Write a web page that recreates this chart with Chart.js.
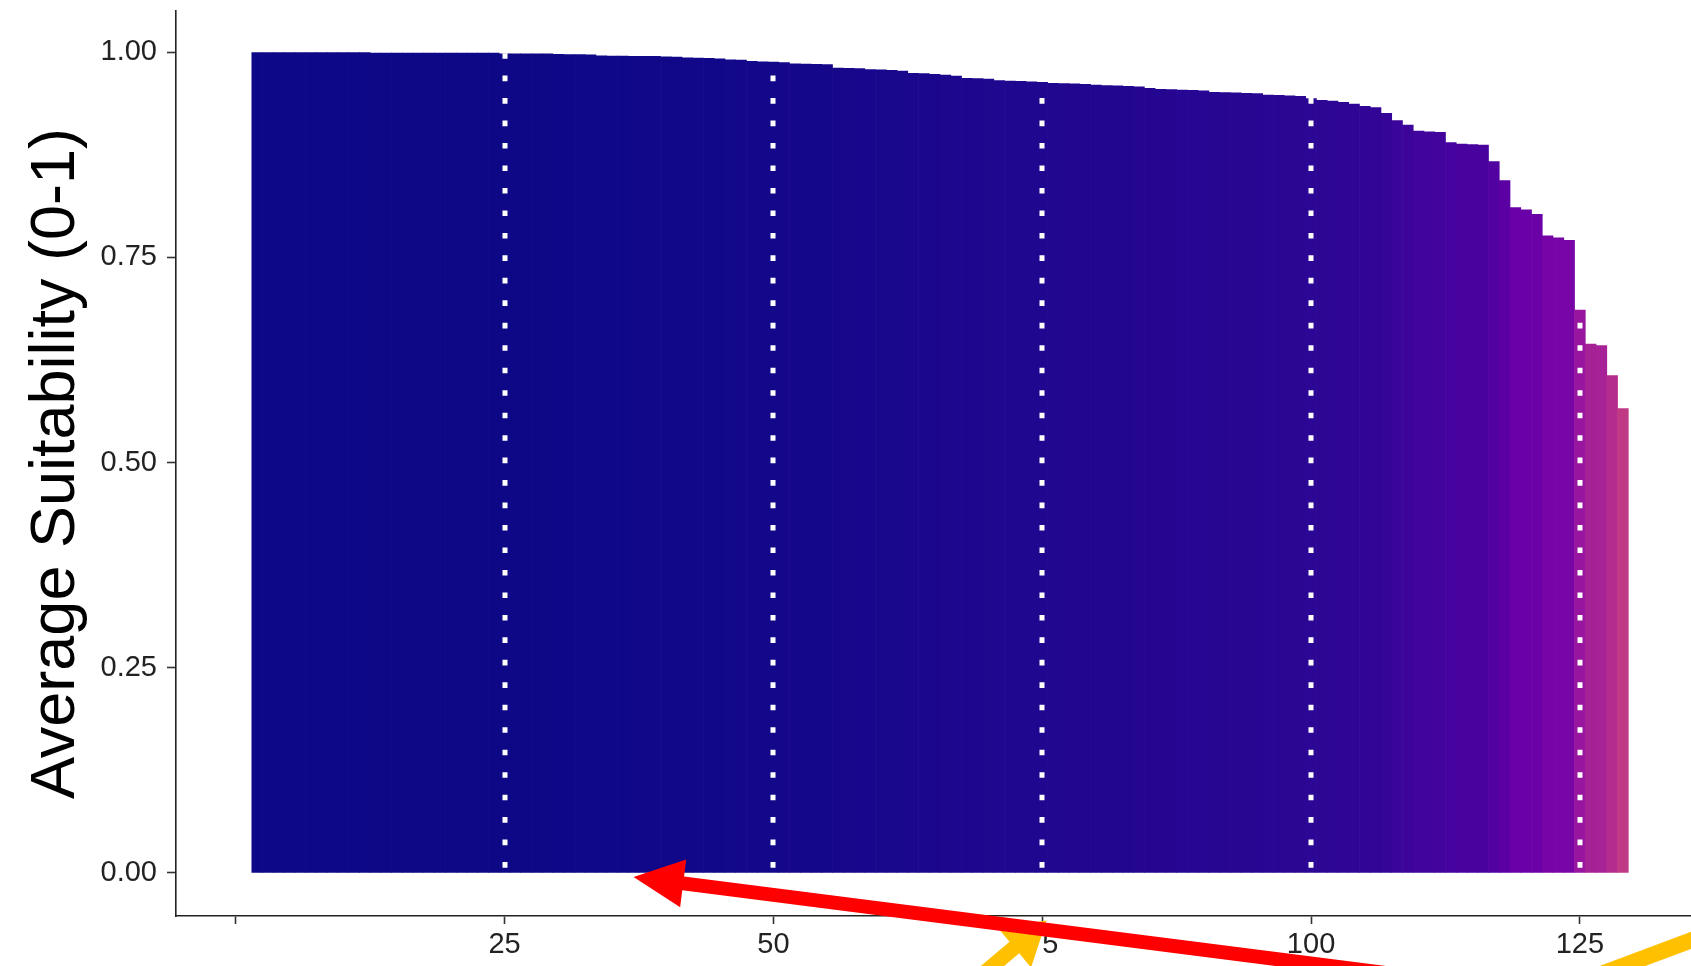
<!DOCTYPE html>
<html>
<head>
<meta charset="utf-8">
<script src="https://cdn.jsdelivr.net/npm/chart.js@4.4.0/dist/chart.umd.min.js"></script>
<style>
html,body{margin:0;padding:0;background:#ffffff;overflow:hidden}
canvas{display:block}
</style>
</head>
<body>
<canvas id="c" width="1691" height="966"></canvas>
<script>
// ---------- DATA ----------
const ranks = [
  2,3,4,5,6,7,8,9,10,11,12,13,14,15,16,17,18,19,20,21,22,23,24,25,26,27,28,29,
  30,31,32,33,34,35,36,37,38,39,40,41,42,43,44,45,46,47,48,49,50,51,52,53,54,55,
  56,57,58,59,60,61,62,63,64,65,66,67,68,69,70,71,72,73,74,75,76,77,78,79,80,81,
  82,83,84,85,86,87,88,89,90,91,92,93,94,95,96,97,98,99,100,101,102,103,104,105,
  106,107,108,109,110,111,112,113,114,115,116,117,118,119,120,121,122,123,124,125,
  126,127,128,129
];
const suitability = [
  0.9995,0.9995,0.9995,0.9995,0.9995,0.9995,0.9995,0.9995,0.9995,0.9995,0.9995,
  0.999,0.999,0.999,0.999,0.999,0.999,0.999,0.999,0.999,0.999,0.999,0.999,
  0.998,0.998,0.998,0.998,0.998,
  0.9975,0.9973,0.9972,0.997,
  0.9957,0.9955,0.9954,0.9952,0.9951,0.995,
  0.9946,0.9943,
  0.9932,0.9928,0.9925,0.992,
  0.9907,0.9905,
  0.989,0.9885,0.988,0.9876,
  0.986,0.9856,0.9852,0.985,
  0.9806,0.9804,0.9802,
  0.979,0.9785,0.978,0.977,
  0.9745,0.974,0.9732,
  0.9722,
  0.971,
  0.9683,0.968,0.9675,
  0.9655,0.965,0.9645,0.964,0.9635,
  0.9622,0.962,0.9615,0.961,
  0.960,0.9595,0.959,0.9585,0.958,
  0.956,
  0.955,0.9545,0.954,0.9535,0.953,
  0.9512,0.951,0.9507,
  0.950,0.9497,
  0.948,0.9475,0.947,0.9462,
  0.9435,0.9415,0.9406,0.939,0.937,0.934,0.9325,0.9256,0.9167,0.9114,
  0.904,0.903,0.9025,0.8899,0.888,0.8875,0.887,0.8667,0.8436,0.8107,
  0.808,0.8026,0.7765,0.774,0.771,0.686,0.6446,0.6425,0.606,0.566
];
const xTickValues = [0, 25, 50, 75, 100, 125];
const xTickLabels = ['', '25', '50', '75', '100', '125'];
const yTickValues = [0, 0.25, 0.5, 0.75, 1];
const yTickLabels = ['0.00', '0.25', '0.50', '0.75', '1.00'];
const cutRanks = [25, 50, 75, 100, 125];
const yTitle = 'Average Suitability (0-1)';

// annotation arrows (overlay), in data units: [tailX, tailY, tipX, tipY]
const redArrow = [115.7, -0.1365, 37.0, -0.005];
const yellowArrow1 = [65.5, -0.167, 75.4, -0.058];
const yellowShaft2 = [123.1, -0.142, 138.0, -0.069];

// ---------- STYLE ----------
const plasmaStops = ['#0d0887','#41049d','#6a00a8','#8f0da4','#b12a90','#cc4778','#e16462','#f2844b','#fca636','#fcce25','#f0f921'];
function hexToRgb(h){return [parseInt(h.slice(1,3),16),parseInt(h.slice(3,5),16),parseInt(h.slice(5,7),16)];}
function plasma(t){
  t = Math.max(0, Math.min(1, t));
  const p = t * (plasmaStops.length - 1);
  const i = Math.min(Math.floor(p), plasmaStops.length - 2);
  const f = p - i;
  const a = hexToRgb(plasmaStops[i]), b = hexToRgb(plasmaStops[i+1]);
  const c = a.map((v,k)=>Math.round(v + (b[k]-v)*f));
  return 'rgb(' + c.join(',') + ')';
}
const barColors = suitability.map(v => plasma((1 - v) * 1.04));

const FONT = "'Liberation Sans', Arial, Helvetica, sans-serif";

const cutLinePlugin = {
  id: 'cutLines',
  afterDatasetsDraw(chart) {
    const {ctx, chartArea} = chart;
    const xs = chart.scales.x;
    ctx.save();
    ctx.beginPath();
    ctx.rect(chartArea.left, chartArea.top, chartArea.right - chartArea.left, chartArea.bottom - chartArea.top);
    ctx.clip();
    ctx.strokeStyle = '#ffffff';
    ctx.lineWidth = 5;
    ctx.lineCap = 'butt';
    ctx.setLineDash([5.6, 16.87]);
    cutRanks.forEach(v => {
      const x = Math.round(xs.getPixelForValue(v));
      ctx.beginPath();
      ctx.moveTo(x, chartArea.top - 2.8);
      ctx.lineTo(x, chartArea.bottom);
      ctx.stroke();
    });
    ctx.restore();
  }
};

function drawArrow(ctx, x0, y0, x1, y1, width, headLen, headHalf, color) {
  const dx = x1 - x0, dy = y1 - y0;
  const L = Math.hypot(dx, dy);
  const ux = dx / L, uy = dy / L;
  const nx = -uy, ny = ux;
  const bx = x1 - ux * headLen, by = y1 - uy * headLen;
  ctx.fillStyle = color;
  ctx.beginPath();
  ctx.moveTo(x0 + nx * width/2, y0 + ny * width/2);
  ctx.lineTo(bx + nx * width/2, by + ny * width/2);
  ctx.lineTo(bx + nx * headHalf, by + ny * headHalf);
  ctx.lineTo(x1, y1);
  ctx.lineTo(bx - nx * headHalf, by - ny * headHalf);
  ctx.lineTo(bx - nx * width/2, by - ny * width/2);
  ctx.lineTo(x0 - nx * width/2, y0 - ny * width/2);
  ctx.closePath();
  ctx.fill();
}

const arrowPlugin = {
  id: 'arrows',
  afterDraw(chart) {
    const {ctx} = chart;
    const xs = chart.scales.x, ys = chart.scales.y;
    const P = (a) => [xs.getPixelForValue(a[0]), ys.getPixelForValue(a[1]), xs.getPixelForValue(a[2]), ys.getPixelForValue(a[3])];
    ctx.save();
    const y1 = P(yellowArrow1);
    drawArrow(ctx, y1[0], y1[1], y1[2], y1[3], 15, 42, 26, '#ffc000');
    const y2 = P(yellowShaft2);
    ctx.strokeStyle = '#ffc000';
    ctx.lineWidth = 16;
    ctx.beginPath(); ctx.moveTo(y2[0], y2[1]); ctx.lineTo(y2[2], y2[3]); ctx.stroke();
    const r = P(redArrow);
    drawArrow(ctx, r[0], r[1], r[2], r[3], 14, 50, 24, '#ff0000');
    ctx.restore();
  }
};

new Chart(document.getElementById('c'), {
  type: 'bar',
  data: {
    datasets: [{
      data: ranks.map((r, i) => ({x: r, y: suitability[i]})),
      backgroundColor: barColors,
      borderWidth: 0,
      barPercentage: 1,
      categoryPercentage: 1
    }]
  },
  options: {
    responsive: false,
    animation: false,
    devicePixelRatio: 1,
    layout: {padding: {top: 11, right: 0, bottom: 0, left: 0}},
    plugins: {legend: {display: false}, tooltip: {enabled: false}},
    scales: {
      x: {
        type: 'linear',
        offset: false,
        min: -5.55,
        max: 135.33,
        afterBuildTicks: (s) => { s.ticks = xTickValues.map(v => ({value: v})); },
        afterFit: (s) => { s.height = 50; s.paddingLeft = 0; s.paddingRight = 0; },
        ticks: {
          callback: (v, i) => xTickLabels[i],
          font: {family: FONT, size: 29},
          color: '#222222',
          padding: 4,
          maxRotation: 0,
          autoSkip: false
        },
        grid: {offset: false, drawOnChartArea: false, drawTicks: true, tickLength: 8, color: '#333333', tickWidth: 1.6},
        border: {display: true, color: '#222222', width: 1.6}
      },
      y: {
        type: 'linear',
        min: -0.0524,
        max: 1.0503,
        afterBuildTicks: (s) => { s.ticks = yTickValues.map(v => ({value: v})); },
        afterFit: (s) => { s.width = 176; s.paddingTop = 0; s.paddingBottom = 0; },
        ticks: {
          callback: (v, i) => yTickLabels[i],
          font: {family: FONT, size: 29},
          color: '#222222',
          padding: 10,
          autoSkip: false
        },
        grid: {drawOnChartArea: false, drawTicks: true, tickLength: 9, color: '#333333', tickWidth: 1.6},
        border: {display: true, color: '#222222', width: 1.6},
        title: {
          display: true,
          text: yTitle,
          font: {family: FONT, size: 63},
          color: '#000000',
          padding: {top: 19, bottom: 0}
        }
      }
    }
  },
  plugins: [cutLinePlugin, arrowPlugin]
});
</script>
</body>
</html>
